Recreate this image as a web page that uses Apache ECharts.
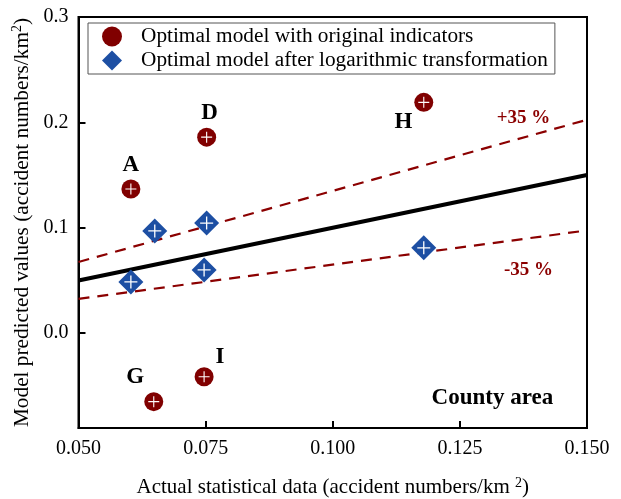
<!DOCTYPE html>
<html><head><meta charset="utf-8">
<script src="https://cdn.jsdelivr.net/npm/echarts@6/dist/echarts.min.js"></script>
<style>html,body{margin:0;padding:0;background:#fff}#c{width:621px;height:499px}</style>
</head><body><div id="c"></div>
<script>
// Data
const origNames = ['A','D','H','G','I'];
const origX = [0.0603, 0.0752, 0.1179, 0.0648, 0.0747];
const origY = [0.1368, 0.186, 0.219, -0.065, -0.0414];
const logX = [0.0603, 0.065, 0.0752, 0.0747, 0.1179];
const logY = [0.0486, 0.097, 0.1045, 0.060, 0.081];
const refLineX = [0.05, 0.15];
const plusFactor = 1.35, minusFactor = 0.65;
const yTicks = [0, 0.1, 0.2, 0.3];
const annoText = ['+35 %', '-35 %', 'County area'];
const annoX = [0.1375, 0.1385, 0.1314];
const annoY = [0.204, 0.060, -0.0615];

const FONT = "'Liberation Serif','Times New Roman',serif";
const RED = '#800000', BLUE = '#1d4fa3', DASH = '#8b0000';
const crossPath = 'path://M-0.6,-6 L0.6,-6 L0.6,6 L-0.6,6 Z M-6,-0.6 L6,-0.6 L6,0.6 L-6,0.6 Z';

const labelPos = {
  A: {position:'top', distance: 3},
  D: {position:'top', distance: 3, offset:[3,0]},
  H: {position:'left', distance: 2, offset:[0,20]},
  G: {position:'left', distance: 0, offset:[0,-25]},
  I: {position:'right', distance: 2, offset:[0,-20]}
};

const origData = origX.map((x,i)=>({
  value:[x, origY[i]],
  label:Object.assign({show:true, formatter:origNames[i], color:'#000', fontFamily:FONT, fontWeight:'bold', fontSize:23}, labelPos[origNames[i]])
}));
const logData = logX.map((x,i)=>[x, logY[i]]);
const annoData = annoX.map((x,i)=>[x, annoY[i], i]);

const nameRich = {sup:{fontFamily:FONT, fontSize:14, color:'#000', padding:[0,0,9,0]}};

const chart = echarts.init(document.getElementById('c'));
chart.setOption({
  animation:false,
  grid:{left:78.5, right:34, top:17, bottom:71, outerBoundsMode:'none', containLabel:false, show:true, borderColor:'#000', borderWidth:2, backgroundColor:'transparent'},
  xAxis:{type:'value', min:0.05, max:0.15, interval:0.025,
    axisLine:{onZero:false, lineStyle:{color:'#000', width:2}},
    axisTick:{inside:true, length:7, lineStyle:{color:'#000', width:2}},
    splitLine:{show:false},
    axisLabel:{color:'#000', fontFamily:FONT, fontSize:20, margin:11, formatter:v=>v.toFixed(3)},
    name:'Actual statistical data (accident numbers/km {sup|2})', nameLocation:'middle', nameGap:48,
    nameTextStyle:{color:'#000', fontFamily:FONT, fontSize:21, rich:nameRich}
  },
  yAxis:{type:'value', min:-0.09, max:0.3,
    axisLine:{onZero:false, lineStyle:{color:'#000', width:2}},
    axisTick:{inside:true, length:7, lineStyle:{color:'#000', width:2}, customValues:yTicks},
    splitLine:{show:false},
    axisLabel:{color:'#000', fontFamily:FONT, fontSize:20, margin:10, customValues:yTicks, formatter:v=>v.toFixed(1)},
    name:'Model predicted values (accident numbers/km{sup|2})', nameLocation:'middle', nameGap:43, nameRotate:90,
    nameTextStyle:{color:'#000', fontFamily:FONT, fontSize:21.3, rich:nameRich}
  },
  legend:{data:['Optimal model with original indicators','Optimal model after logarithmic transformation'],
    orient:'vertical', left:88, top:23, padding:[3,7,3,14], itemGap:3, itemWidth:20, itemHeight:20,
    borderColor:'#555', borderWidth:1, backgroundColor:'#fff',
    textStyle:{color:'#000', fontFamily:FONT, fontSize:21.3, padding:[0,0,0,14]}
  },
  series:[
    {type:'line', data:refLineX.map(x=>[x, x*plusFactor]), symbol:'none', lineStyle:{color:DASH, width:2.2, type:[11,8]}, z:1},
    {type:'line', data:refLineX.map(x=>[x, x*minusFactor]), symbol:'none', lineStyle:{color:DASH, width:2.2, type:[11,8]}, z:1},
    {type:'line', data:refLineX.map(x=>[x, x]), symbol:'none', lineStyle:{color:'#000', width:4}, z:1},
    {name:'Optimal model with original indicators', type:'scatter', data:origData, symbol:'circle', symbolSize:19, itemStyle:{color:RED, opacity:1}, z:3},
    {type:'scatter', data:origX.map((x,i)=>[x,origY[i]]), symbol:crossPath, symbolSize:11, itemStyle:{color:'#fff', opacity:1}, z:4, silent:true},
    {name:'Optimal model after logarithmic transformation', type:'scatter', data:logData, symbol:'diamond', symbolSize:[25,25], itemStyle:{color:BLUE, opacity:1}, z:3},
    {type:'scatter', data:logData, symbol:crossPath, symbolSize:13, itemStyle:{color:'#fff', opacity:1}, z:4, silent:true},
    {type:'custom', data:annoData, z:5, silent:true,
      renderItem:(params, api)=>{
        const i = api.value(2);
        const p = api.coord([api.value(0), api.value(1)]);
        return {type:'text', x:p[0], y:p[1], style:{text:annoText[i], fill: i<2 ? DASH : '#000',
          font: 'bold ' + (i<2 ? 19 : 23) + "px 'Liberation Serif','Times New Roman',serif", align:'center', verticalAlign:'middle'}};
      }}
  ]
});
</script></body></html>
